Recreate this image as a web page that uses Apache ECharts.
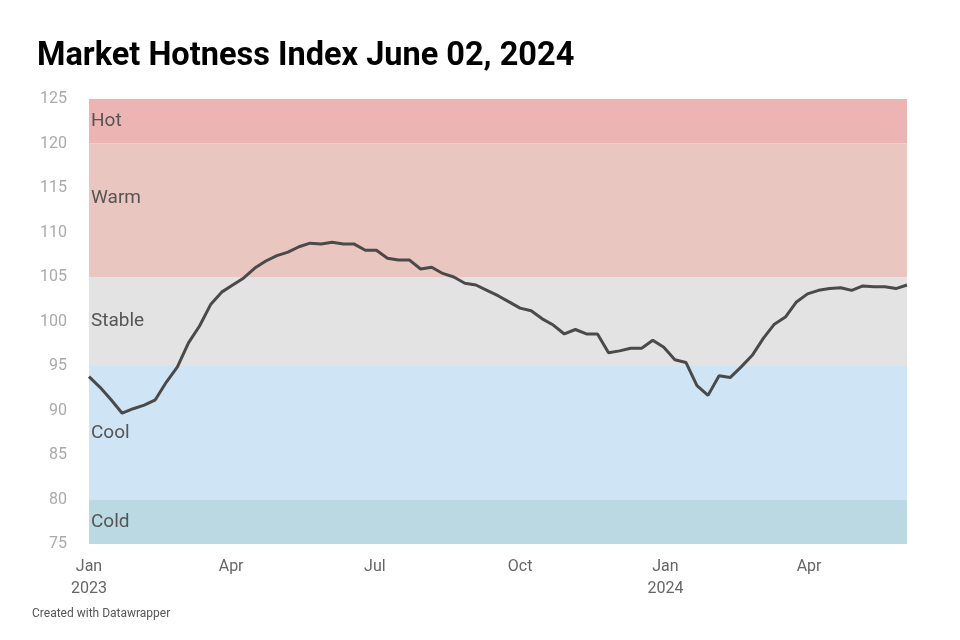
<!DOCTYPE html>
<html><head><meta charset="utf-8">
<script src="https://cdn.jsdelivr.net/npm/echarts@6/dist/echarts.min.js"></script>
<style>html,body{margin:0;padding:0;background:#fff}#c{width:960px;height:640px}</style>
</head><body><div id="c"></div>
<script>
// weekly values starting 2023-01-01
const values = [93.8,92.6,91.2,89.7,90.2,90.6,91.2,93.2,94.9,97.6,99.5,101.9,103.3,104.1,104.9,106.0,106.8,107.4,107.8,108.4,108.8,108.7,108.9,108.7,108.7,108.0,108.0,107.1,106.9,106.9,105.9,106.1,105.4,105.0,104.3,104.1,103.5,102.9,102.2,101.5,101.2,100.3,99.6,98.6,99.1,98.6,98.6,96.5,96.7,97.0,97.0,97.9,97.1,95.7,95.4,92.8,91.7,93.9,93.7,94.9,96.2,98.1,99.7,100.5,102.2,103.1,103.5,103.7,103.8,103.5,104.0,103.9,103.9,103.7,104.1];
const tickDays = [0,90,181,273,365,456];
const tickLabels = ['Jan\n2023','Apr','Jul','Oct','Jan\n2024','Apr'];
const yTicks = [75,80,85,90,95,100,105,110,115,120,125];
const bands = [
  {name:'Hot', from:120, to:125, color:'#ecb4b2'},
  {name:'Warm', from:105, to:120, color:'#eac6c1'},
  {name:'Stable', from:95, to:105, color:'#e3e3e3'},
  {name:'Cool', from:80, to:95, color:'#cfe4f4'},
  {name:'Cold', from:75, to:80, color:'#bbd9e2'}
];
const data = values.map((v,i)=>[i*7,v]);
const chart = echarts.init(document.getElementById('c'));
chart.setOption({
  animation:false,
  title:{text:'Market Hotness Index June 02, 2024',left:32,top:35,textStyle:{fontFamily:'Roboto',fontWeight:'bold',fontSize:32.5,color:'#000'}},
  graphic:[{type:'text',left:32,top:608,style:{text:'Created with Datawrapper',fontFamily:'Roboto',fontSize:12,fill:'#555'}}],
  grid:{left:89,right:53,top:99,bottom:96},
  xAxis:{type:'value',min:0,max:518,
    axisLine:{show:false},axisTick:{show:false},splitLine:{show:false},
    axisLabel:{customValues:tickDays,formatter:(v)=>tickLabels[tickDays.indexOf(v)]||'',fontFamily:'Roboto',fontSize:16,color:'#666',lineHeight:22,margin:12}},
  yAxis:{type:'value',min:75,max:125,interval:5,
    axisLine:{show:false},axisTick:{show:false},splitLine:{show:false},
    axisLabel:{fontFamily:'Roboto',fontSize:16,color:'#aaa',margin:22}},
  series:[{type:'line',data:data,symbol:'none',lineStyle:{color:'#4a4a4a',width:3},z:5,
    markArea:{silent:true,data:bands.map(b=>[{yAxis:b.from,name:b.name,itemStyle:{color:b.color},
      label:{position:'insideLeft',distance:2,offset:b.name==='Warm'?[0,-12]:[0,0],fontFamily:'Roboto',fontSize:19,color:'#555'}},{yAxis:b.to}])}}]
});
</script></body></html>
